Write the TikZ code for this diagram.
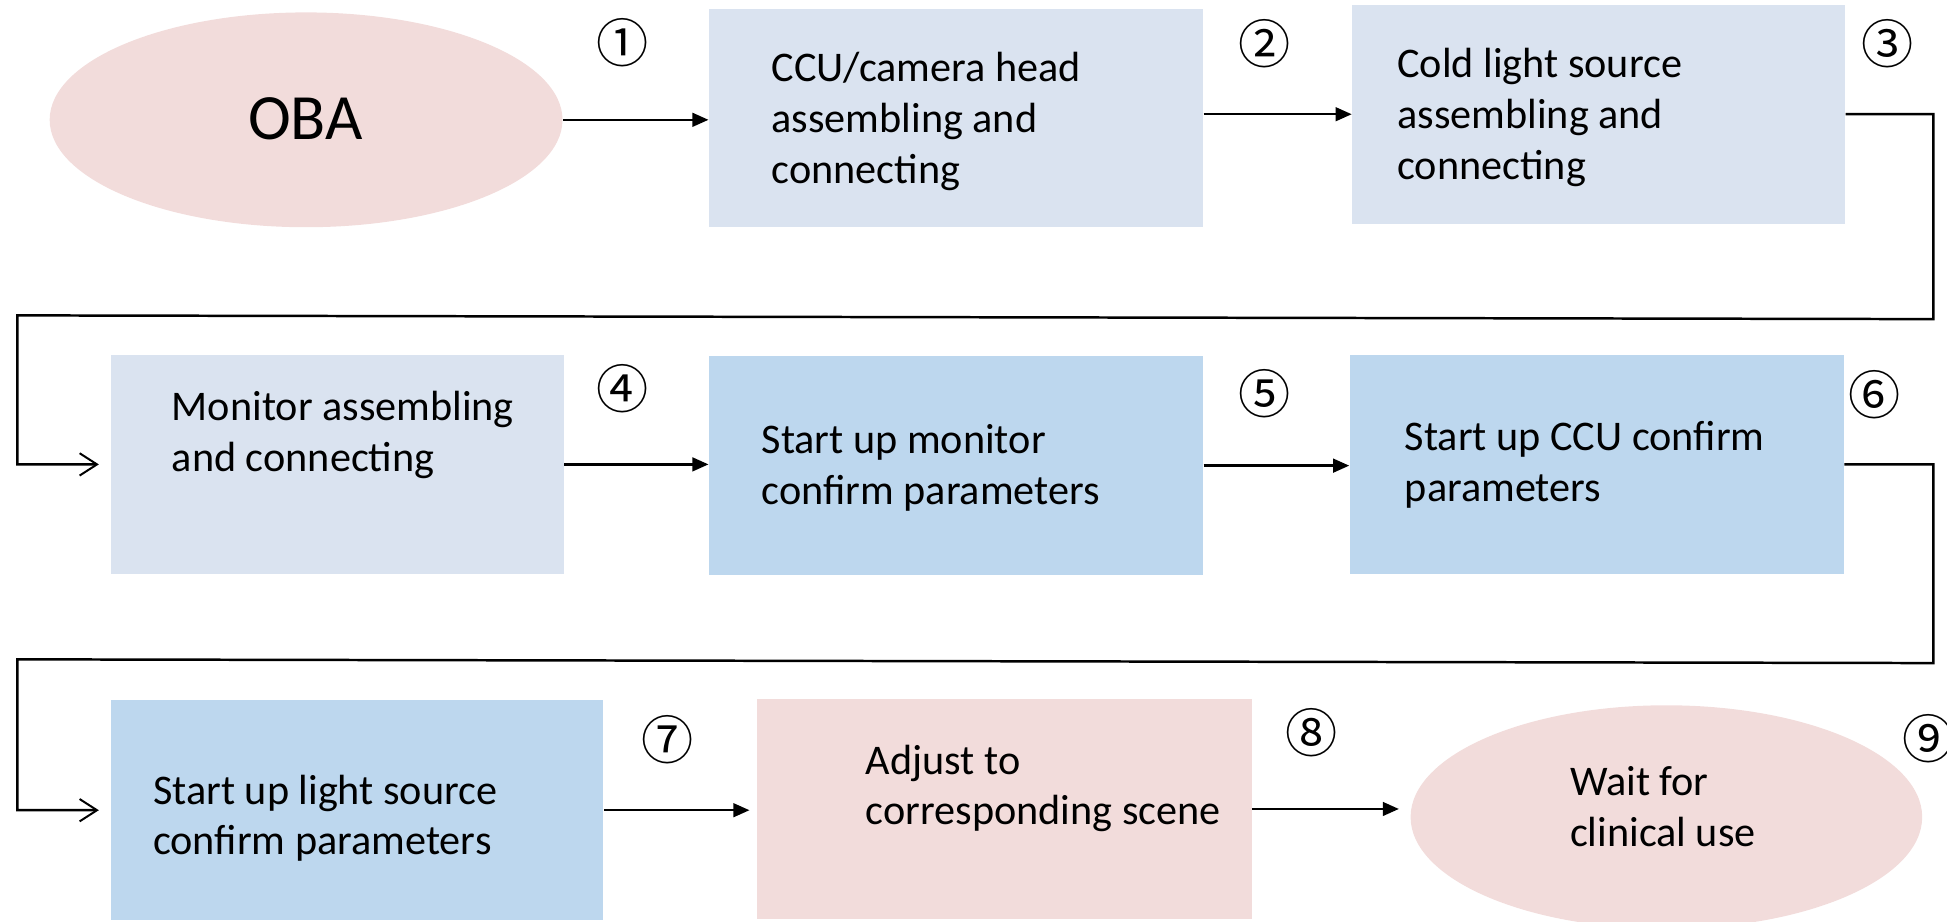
\documentclass[tikz,border=0pt]{standalone}
\usepackage{fontspec}
\setmainfont{Carlito}
\newfontfamily\cnumfont{Noto Sans CJK SC}
\usetikzlibrary{shapes.geometric,arrows.meta}
\definecolor{lightblue}{HTML}{DAE3F0}
\definecolor{midblue}{HTML}{BDD7EE}
\definecolor{pinkfill}{HTML}{F2DCDB}
\tikzset{
  box/.style={rectangle, draw=none, minimum width=199pt, minimum height=88pt, inner sep=0pt},
  oval/.style={ellipse, fill=pinkfill, draw=none, inner sep=0pt},
  txt/.style={anchor=west, inner sep=0pt, align=left, font=\fontsize{17pt}{20.5pt}\selectfont},
  num/.style={inner sep=0pt, font=\cnumfont\fontsize{21pt}{21pt}\selectfont},
  flow/.style={line width=1pt, -{Triangle[length=6.5pt, width=5.5pt]}},
  wrap/.style={line width=1pt, -{Straight Barb[length=7pt, width=9pt, line width=0.8pt]}, shorten >=4.5pt},
}
\begin{document}
\begin{tikzpicture}[x=0.5pt, y=-0.5pt]
\useasboundingbox (0,0) rectangle (1568,742);
% nodes
\node[oval, minimum width=206.5pt, minimum height=86.5pt] (oba) at (246.5,96.5) {};
\node[font=\fontsize{26pt}{30pt}\selectfont] (obatxt) at (246,96) {OBA};
\node[box, fill=lightblue] (b1) at (770,95) {};
\node[box, fill=lightblue, minimum width=198.5pt] (b2) at (1287.5,92) {};
\node[box, fill=lightblue, minimum width=182.5pt] (b4) at (271.5,374) {};
\node[box, fill=midblue] (b5) at (770,375) {};
\node[box, fill=midblue] (b6) at (1286,374) {};
\node[box, fill=midblue, minimum width=198.5pt, minimum height=88.5pt] (b7) at (287.5,652.5) {};
\node[box, fill=pinkfill, minimum height=88.5pt] (b8) at (809,651.5) {};
\node[oval, minimum width=206pt, minimum height=90pt] (e9) at (1342,658) {};
% texts
\node[txt] (t1) at (621,98) {CCU/camera head\\assembling and\\connecting};
\node[txt] (t2) at (1125,94.5) {Cold light source\\assembling and\\connecting};
\node[txt] (t4) at (138,350.5) {Monitor assembling\\and connecting};
\node[txt] (t5) at (613,377) {Start up monitor\\confirm parameters};
\node[txt] (t6) at (1131,374.5) {Start up CCU confirm\\parameters};
\node[txt] (t7) at (123,659) {Start up light source\\confirm parameters};
\node[txt] (t8) at (697,635) {Adjust to\\corresponding scene};
\node[txt] (t9) at (1264,649.5) {Wait for\\clinical use};
% step numbers
\node[num] (n1) at (501,34) {①};
\node[num] (n2) at (1018,35) {②};
\node[num] (n3) at (1520,35) {③};
\node[num] (n4) at (501,313) {④};
\node[num] (n5) at (1018,317) {⑤};
\node[num] (n6) at (1510,318) {⑥};
\node[num] (n7) at (538,596) {⑦};
\node[num] (n8) at (1056,590) {⑧};
\node[num] (n9) at (1553,595) {⑨};
% connectors
\draw[flow] (oba.east) -- (oba.east -| b1.west);
\draw[flow] (b2.west -| b1.east) -- (b2.west);
\coordinate (r1) at (1557,257);
\coordinate (l1) at (14,254);
\draw[wrap] (b2.east) -| (r1) -- (l1) |- (b4.west);
\draw[flow] (b4.east) -- (b4.east -| b5.west);
\draw[flow] (b5.east) -- (b5.east -| b6.west);
\coordinate (r2) at (1557,534);
\coordinate (l2) at (14,531);
\draw[wrap] (b6.east) -| (r2) -- (l2) |- (b7.west);
\draw[flow, shorten >=3pt] (b7.east) -- (b7.east -| b8.west);
\draw[flow, shorten >=4.5pt] (b8.east) -- (b8.east -| e9.west);
\end{tikzpicture}
\end{document}
